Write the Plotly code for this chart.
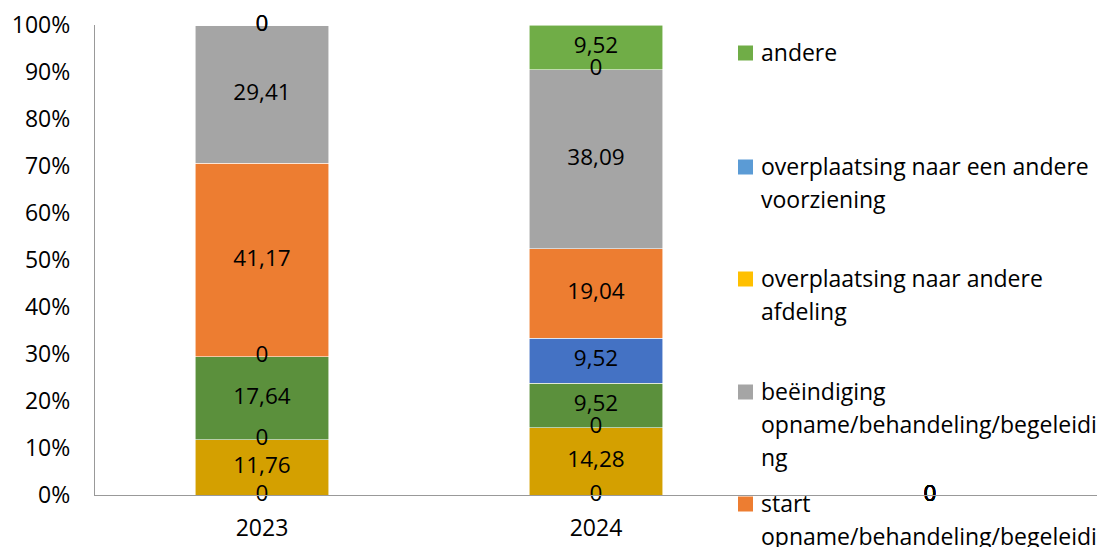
import plotly.graph_objects as go

# -------------------------------
# data
# -------------------------------
categories = ["2023", "2024", ""]

# series from bottom to top of the stack
series_names = ["nul_a", "afdeling", "nul_b", "voorziening", "overplaatsing", "start", "beeindiging", "nul_c", "andere"]
series_colors = ["#D4A000", "#D4A000", "#5B903C", "#5B903C", "#4472C4", "#ED7D31", "#A5A5A5", "#70AD47", "#70AD47"]
values_nul_a = [0, 0, 0]
values_geel = [11.76, 14.28, 0]
values_nul_b = [0, 0, 0]
values_groen = [17.64, 9.52, 0]
values_blauw = [0, 9.52, 0]
values_oranje = [41.17, 19.04, 0]
values_grijs = [29.41, 38.09, 0]
values_nul_c = [0, 0, 0]
values_andere = [0, 9.52, 0]
all_values = [values_nul_a, values_geel, values_nul_b, values_groen, values_blauw,
              values_oranje, values_grijs, values_nul_c, values_andere]

# legend (wrapped lines as in the original)
legend_lines = [
    ["andere"],
    ["overplaatsing naar een andere", "voorziening"],
    ["overplaatsing naar andere", "afdeling"],
    ["beëindiging", "opname/behandeling/begeleidi", "ng"],
    ["start", "opname/behandeling/begeleidi", "ng"],
]
legend_colors = ["#70AD47", "#5B9BD5", "#FFC000", "#A5A5A5", "#ED7D31"]

FONT = "Open Sans"
FS = 22.5
FS_TICK = 23
FS_LEG = 23

W, H = 1105, 547
# plot area x 95..1097, y 25..495
L, R, T, B = 95, 1105 - 1097, 25, H - 495
def px(x):
    return (x - L) / (W - L - R)
def py(y):
    return (H - B - y) / (H - T - B)

xpos = list(range(len(categories)))

fig = go.Figure()

for name, vals, col in zip(series_names, all_values, series_colors):
    fig.add_trace(go.Bar(
        x=xpos, y=vals, name=name, marker_color=col,
        marker_line=dict(color="rgba(255,255,255,0.7)", width=0.8),
        width=0.40, showlegend=False, hoverinfo="skip"
    ))

# data labels (centre of each segment, zero segments at the boundary)
totals = [sum(v[i] for v in all_values) for i in range(len(categories))]
base = [0.0] * len(categories)
for vals in all_values:
    ys, txt = [], []
    for i, v in enumerate(vals):
        pct = 0 if totals[i] == 0 else v / totals[i] * 100
        b = 0 if totals[i] == 0 else base[i] / totals[i] * 100
        ys.append(b + pct / 2)
        txt.append(f"{v:g}".replace(".", ","))
        base[i] += v
    fig.add_trace(go.Scatter(
        x=xpos, y=ys, text=txt, mode="text", textposition="middle center",
        textfont=dict(family=FONT, size=FS, color="black"),
        showlegend=False, hoverinfo="skip", cliponaxis=False
    ))

# legend drawn by hand so the spacing matches the original
first_y = [52, 166, 278, 391, 503]
line_gap = 33
for lines, col, y0 in zip(legend_lines, legend_colors, first_y):
    fig.add_shape(type="rect", xref="paper", yref="paper",
                  xsizemode="pixel", ysizemode="pixel",
                  xanchor=px(745.5), yanchor=py(y0 + 1),
                  x0=-7.5, x1=7.5, y0=-7.5, y1=7.5,
                  fillcolor=col, line_width=0)
    for k, t in enumerate(lines):
        fig.add_annotation(x=px(759), y=py(y0 + k * line_gap), xref="paper", yref="paper",
                           text=t, showarrow=False, xanchor="left", yanchor="middle",
                           font=dict(family=FONT, size=FS_LEG, color="black"))

fig.update_layout(
    barmode="stack", barnorm="percent",
    width=W, height=H,
    margin=dict(l=L, r=R, t=T, b=B),
    paper_bgcolor="white", plot_bgcolor="white",
    font=dict(family=FONT, size=FS_TICK, color="black"),
)
fig.update_xaxes(
    range=[-0.5, len(categories) - 0.5],
    tickvals=xpos, ticktext=categories, automargin=False,
    showline=True, linecolor="#999999", linewidth=1.3,
    showgrid=False, zeroline=False,
    ticks="outside", ticklen=12, tickcolor="rgba(0,0,0,0)",
)
fig.update_yaxes(
    range=[0, 100], dtick=10, ticksuffix="%", automargin=False,
    showline=True, linecolor="#999999", linewidth=1.3,
    showgrid=False, zeroline=False,
    ticks="outside", ticklen=19, tickcolor="rgba(0,0,0,0)",
)

fig.write_html("out.html", config={"displayModeBar": False},
               post_script="document.body.style.margin='0';document.body.style.overflow='hidden';")
